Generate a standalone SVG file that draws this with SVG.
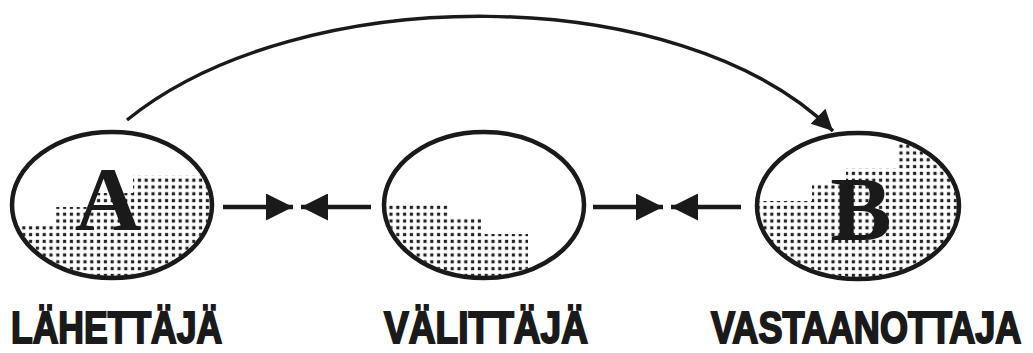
<svg xmlns="http://www.w3.org/2000/svg" width="1033" height="353" viewBox="0 0 1033 353">
<style>
.node{fill:none;stroke:#1a1a1a;stroke-width:4.5}
.letter{font-family:"Liberation Serif","Times New Roman",serif;font-weight:bold;fill:#1a1a1a;text-anchor:middle}
.label{font-family:"Liberation Sans",Arial,sans-serif;font-weight:bold;font-size:45px;fill:#1a1a1a;stroke:#1a1a1a;stroke-width:2}
.conn{fill:none;stroke:#1a1a1a;stroke-width:4.5}
.arc{fill:none;stroke:#1a1a1a;stroke-width:3.5}
</style>
<defs>
<pattern id="dots" x="0" y="0" width="6.8" height="6.8" patternUnits="userSpaceOnUse">
<rect x="1.8" y="1.8" width="3.2" height="3.2" fill="#222"/>
</pattern>
<marker id="head" viewBox="0 0 10 10" refX="10" refY="5" markerWidth="6" markerHeight="6" markerUnits="strokeWidth" orient="auto">
<path d="M0,0 L10,5 L0,10 z" fill="#1a1a1a"/>
</marker>
<marker id="head2" viewBox="0 0 10 10" refX="10" refY="5" markerWidth="7" markerHeight="6" markerUnits="strokeWidth" orient="auto">
<path d="M0,0 L10,5 L0,10 z" fill="#1a1a1a"/>
</marker>
<clipPath id="cA"><ellipse cx="112" cy="205" rx="98" ry="71"/></clipPath>
<clipPath id="cM"><ellipse cx="484" cy="205" rx="98" ry="71"/></clipPath>
<clipPath id="cB"><ellipse cx="858" cy="206" rx="99" ry="71"/></clipPath>
</defs>

<g id="node-A">
<path d="M133,175 L215,175 L215,285 L10,285 L10,226 L56,226 L56,207 L96,207 L96,193 L133,193 z" fill="url(#dots)" clip-path="url(#cA)"/>
<ellipse class="node" cx="112" cy="205" rx="100" ry="73"/>
<text class="letter" x="108" y="230" font-size="92">A</text>
</g>

<g id="node-M">
<path d="M384,203 L449,203 L449,218 L481,218 L481,234 L528,234 L528,285 L384,285 z" fill="url(#dots)" clip-path="url(#cM)"/>
<ellipse class="node" cx="484" cy="205" rx="100" ry="73"/>
</g>

<g id="node-B">
<path d="M898,140 L965,140 L965,285 L755,285 L755,201 L812,201 L812,184 L846,184 L846,168 L898,168 z" fill="url(#dots)" clip-path="url(#cB)"/>
<ellipse class="node" cx="858" cy="206" rx="101" ry="73"/>
<text class="letter" x="861" y="240" font-size="92">B</text>
</g>

<g id="connectors">
<path class="arc" d="M127,120 C300,-20 680,-20 833,131" marker-end="url(#head2)"/>
<line class="conn" x1="223" y1="207" x2="293" y2="207" marker-end="url(#head)"/>
<line class="conn" x1="371" y1="207" x2="301" y2="207" marker-end="url(#head)"/>
<line class="conn" x1="593" y1="207" x2="663" y2="207" marker-end="url(#head)"/>
<line class="conn" x1="741" y1="207" x2="671" y2="207" marker-end="url(#head)"/>
</g>

<g id="labels">
<text class="label" transform="translate(11,343) scale(0.8,1)" x="0" y="0" textLength="264" lengthAdjust="spacingAndGlyphs">LÄHETTÄJÄ</text>
<text class="label" transform="translate(384,343) scale(0.8,1)" x="0" y="0" textLength="255" lengthAdjust="spacingAndGlyphs">VÄLITTÄJÄ</text>
<text class="label" transform="translate(711,343) scale(0.8,1)" x="0" y="0" textLength="388" lengthAdjust="spacingAndGlyphs">VASTAANOTTAJA</text>
</g>
</svg>
